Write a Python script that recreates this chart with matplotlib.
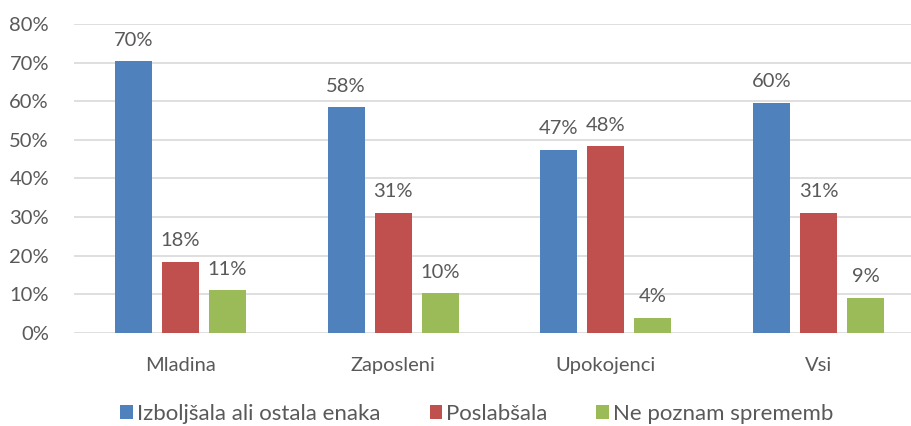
import matplotlib.pyplot as plt
import numpy as np

categories = ["Mladina", "Zaposleni", "Upokojenci", "Vsi"]
series = ["Izboljšala ali ostala enaka", "Poslabšala", "Ne poznam sprememb"]
improved = [0.703, 0.584, 0.474, 0.596]
worse = [0.184, 0.311, 0.484, 0.311]
unknown = [0.111, 0.103, 0.040, 0.091]
labels_improved = ["70%", "58%", "47%", "60%"]
labels_worse = ["18%", "31%", "48%", "31%"]
labels_unknown = ["11%", "10%", "4%", "9%"]
yticks = [0, 0.1, 0.2, 0.3, 0.4, 0.5, 0.6, 0.7, 0.8]

colors = ["#4F81BD", "#C0504D", "#9BBB59"]
text_color = "#595959"

plt.rcParams["font.family"] = ["Lato", "DejaVu Sans"]

fig = plt.figure(figsize=(9.12, 4.26), dpi=100)
ax = fig.add_axes([74 / 912, 93 / 426, 851 / 912, 309 / 426])

x = np.arange(len(categories))
w = 0.174
step = 0.221
for i, (vals, labs) in enumerate(zip([improved, worse, unknown],
                                     [labels_improved, labels_worse, labels_unknown])):
    bars = ax.bar(x + (i - 1) * step, vals, width=w, color=colors[i],
                  label=series[i], zorder=3)
    for b, lab in zip(bars, labs):
        ax.annotate(lab, (b.get_x() + b.get_width() / 2, b.get_height()),
                    xytext=(0, 9), textcoords="offset points",
                    ha="center", va="bottom", fontsize=14.5, color=text_color)

ax.set_xlim(-0.5, 3.5)
ax.set_ylim(0, 0.8)
ax.set_yticks(yticks)
ax.set_yticklabels([f"{int(round(t * 100))}%" for t in yticks])
ax.set_xticks(x)
ax.set_xticklabels(categories)
ax.tick_params(axis="both", length=0, labelsize=14.5, colors=text_color)
ax.tick_params(axis="x", pad=17)
ax.tick_params(axis="y", pad=18)
ax.grid(axis="y", color="#D9D9D9", linewidth=1.2, zorder=0)
ax.set_axisbelow(True)
for s in ax.spines.values():
    s.set_visible(False)

handles, labels = ax.get_legend_handles_labels()
fig.legend(handles, labels, loc="center", bbox_to_anchor=(477 / 912, 12 / 426),
           ncol=3, frameon=False, fontsize=16, handlelength=0.55,
           handleheight=0.55, handletextpad=0.2, columnspacing=2.2,
           labelcolor=text_color)

fig.savefig("out.png", dpi=100)
